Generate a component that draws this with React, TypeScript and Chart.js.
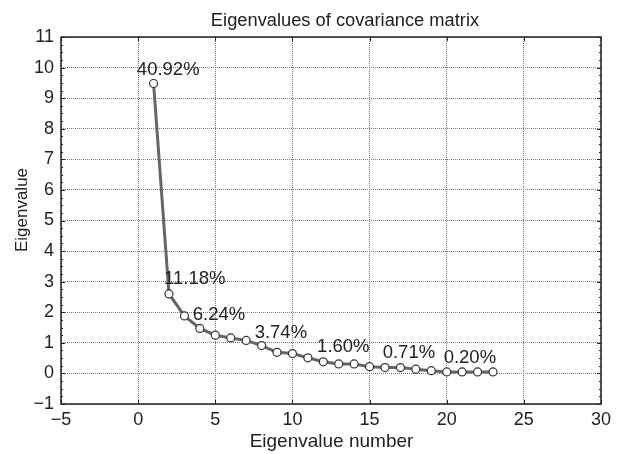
import React, { useEffect, useRef } from "react";
import { Chart, registerables } from "chart.js";

Chart.register(...registerables);

const eigenNumbers = [1, 2, 3, 4, 5, 6, 7, 8, 9, 10, 11, 12, 13, 14, 15, 16, 17, 18, 19, 20, 21, 22, 23];
const eigenValues = [9.48, 2.6, 1.88, 1.47, 1.25, 1.16, 1.08, 0.91, 0.69, 0.65, 0.51, 0.38, 0.31, 0.31, 0.22, 0.19, 0.19, 0.14, 0.09, 0.05, 0.05, 0.05, 0.05];

const pctLabels = ["40.92%", "11.18%", "6.24%", "3.74%", "1.60%", "0.71%", "0.20%"];
const pctLabelX = [1.95, 3.67, 5.24, 9.25, 13.3, 17.55, 21.5];
const pctLabelY = [9.91, 3.09, 1.91, 1.31, 0.875, 0.66, 0.51];

const chartTitle = "Eigenvalues of covariance matrix";
const xTitle = "Eigenvalue number";
const yTitle = "Eigenvalue";

const FONT = "'Liberation Sans', Arial, sans-serif";
const TEXT = "#222222";

const decorPlugin = {
  id: "decor",
  afterDraw(chart: any) {
    const { ctx, chartArea } = chart;
    const xs = chart.scales.x;
    const ys = chart.scales.y;
    const { left, right, top, bottom } = chartArea;
    ctx.save();
    ctx.strokeStyle = "#222";
    ctx.lineWidth = 1.5;
    ctx.setLineDash([]);
    ctx.strokeRect(left, top, right - left, bottom - top);
    ctx.lineWidth = 1;
    for (let v = -1; v <= 11.001; v += 0.25) {
      const y = Math.round(ys.getPixelForValue(v)) + 0.5;
      const major = Math.abs(v - Math.round(v)) < 1e-6;
      const len = major ? 4 : 2;
      ctx.beginPath();
      ctx.moveTo(left, y);
      ctx.lineTo(left + len, y);
      ctx.moveTo(right, y);
      ctx.lineTo(right - len, y);
      ctx.stroke();
    }
    for (let v = -5; v <= 30; v += 5) {
      const x = Math.round(xs.getPixelForValue(v)) + 0.5;
      ctx.beginPath();
      ctx.moveTo(x, bottom);
      ctx.lineTo(x, bottom - 4);
      ctx.moveTo(x, top);
      ctx.lineTo(x, top + 4);
      ctx.stroke();
    }
    ctx.fillStyle = TEXT;
    ctx.textAlign = "center";
    ctx.textBaseline = "alphabetic";
    ctx.font = `18.3px ${FONT}`;
    ctx.fillText(chartTitle, 345, 25.7);
    ctx.font = `19px ${FONT}`;
    ctx.fillText(xTitle, 331.5, 447);
    ctx.save();
    ctx.translate(27, 210);
    ctx.rotate(-Math.PI / 2);
    ctx.font = `17px ${FONT}`;
    ctx.fillText(yTitle, 0, 0);
    ctx.restore();
    ctx.font = `18.5px ${FONT}`;
    ctx.textBaseline = "middle";
    for (let i = 0; i < pctLabels.length; i++) {
      ctx.fillText(pctLabels[i], xs.getPixelForValue(pctLabelX[i]), ys.getPixelForValue(pctLabelY[i]));
    }
    ctx.restore();
  },
};

export default function App() {
  const ref = useRef<HTMLCanvasElement>(null);
  useEffect(() => {
    if (!ref.current) return;
    const chart = new Chart(ref.current, {
      type: "line",
      data: {
        datasets: [
          {
            data: eigenNumbers.map((n, i) => ({ x: n, y: eigenValues[i] })),
            borderColor: "#666666",
            borderWidth: 3,
            pointRadius: 4,
            pointBackgroundColor: "#ffffff",
            pointBorderColor: "#333333",
            pointBorderWidth: 1.2,
            tension: 0,
          },
        ],
      },
      options: {
        responsive: false,
        animation: false,
        devicePixelRatio: 1,
        layout: { padding: { top: 37, right: 28, left: 0, bottom: 0 } },
        plugins: { legend: { display: false }, tooltip: { enabled: false }, title: { display: false } },
        scales: {
          x: {
            type: "linear",
            min: -5,
            max: 30,
            afterFit: (s: any) => { s.height = 50; },
            ticks: {
              stepSize: 5,
              color: TEXT,
              padding: 5,
              font: { family: FONT, size: 18 },
              callback: (v: any) => String(v).replace("-", "\u2212"),
            },
            grid: { color: "#7a7a7a", lineWidth: 1, drawTicks: false },
            border: { display: false, dash: [1, 1] },
          },
          y: {
            type: "linear",
            min: -1,
            max: 11,
            afterFit: (s: any) => { s.width = 61; },
            ticks: {
              stepSize: 1,
              color: TEXT,
              padding: 7,
              font: { family: FONT, size: 18 },
              callback: (v: any) => String(v).replace("-", "\u2212"),
            },
            grid: { color: "#7a7a7a", lineWidth: 1, drawTicks: false },
            border: { display: false, dash: [1, 1] },
          },
        },
      },
      plugins: [decorPlugin],
    });
    return () => chart.destroy();
  }, []);
  return (
    <div style={{ position: "absolute", left: 0, top: 0, width: 629, height: 454, background: "#fff" }}>
      <canvas ref={ref} width={629} height={454} />
    </div>
  );
}
